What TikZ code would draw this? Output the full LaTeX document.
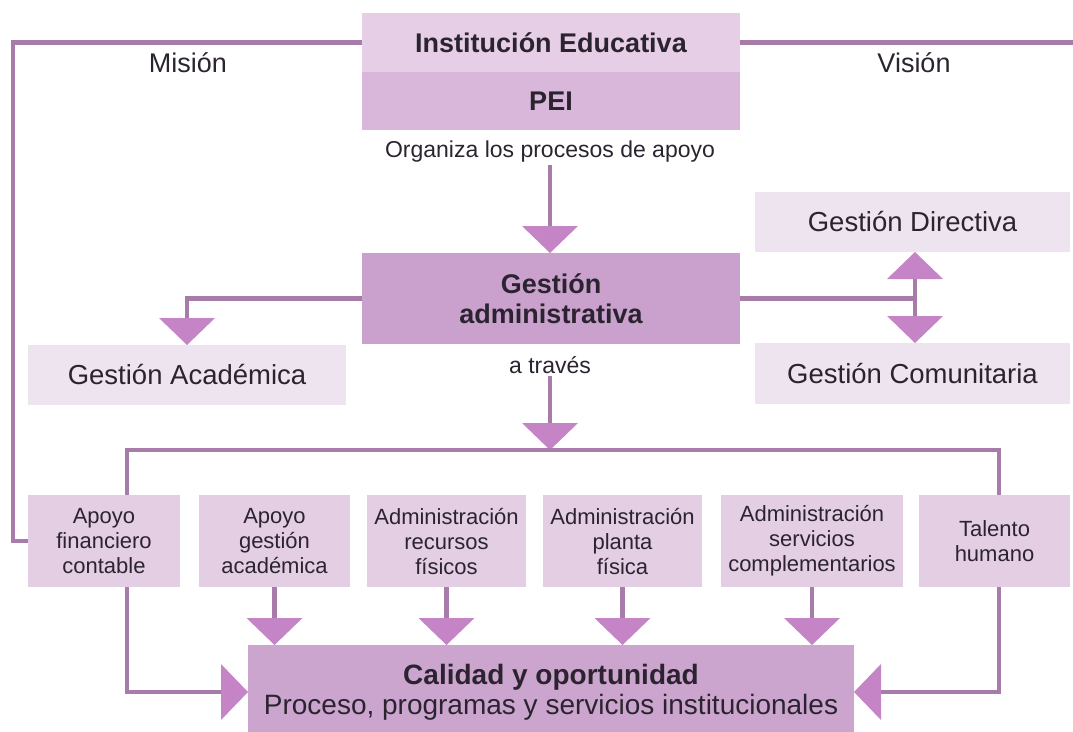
\documentclass[tikz,border=0pt]{standalone}
\usepackage{fontspec}
\setmainfont{Liberation Sans}
\usetikzlibrary{arrows.meta}

\definecolor{linecol}{HTML}{A87CA8}
\definecolor{tipcol}{HTML}{C484C6}
\definecolor{instfill}{HTML}{E6CFE6}
\definecolor{peifill}{HTML}{D8B7DA}
\definecolor{adminfill}{HTML}{C9A1CC}
\definecolor{lightfill}{HTML}{EEE4EF}
\definecolor{boxfill}{HTML}{E3CEE4}
\definecolor{calfill}{HTML}{CBA5CE}
\definecolor{textcol}{HTML}{2B2430}

\newcommand{\headfont}{\fontsize{27}{30}\selectfont\bfseries}
\newcommand{\gestfont}{\fontsize{27.5}{30}\selectfont}
\newcommand{\notefont}{\fontsize{23}{26}\selectfont}
\newcommand{\boxfont}{\fontsize{22}{25}\selectfont}

\tikzstyle{box} = [rectangle,inner sep=0pt,outer sep=0pt,align=center,text=textcol]
\tikzstyle{note} = [inner sep=2pt,outer sep=0pt,text=textcol,font=\notefont]
\tikzstyle{edge} = [draw,line width=4.5pt,linecol]
\tikzstyle{arrowdecorate} = [edge,-{Triangle[width=56pt,length=27pt,line width=0pt,color=tipcol]}]

\begin{document}
\begin{tikzpicture}[x=1pt,y=-1pt]
    \useasboundingbox (0,0) rectangle (1073,731);

    % top block
    \node[box,fill=instfill,font=\headfont,minimum width=378pt,minimum height=59pt] (inst) at (551,42.5) {Institución Educativa};
    \node[box,fill=peifill,font=\headfont,minimum width=378pt,minimum height=58pt] (pei) at (551,101) {PEI};
    \node[note] (org) at (550,152) {Organiza los procesos de apoyo};
    \node[note,font=\fontsize{27}{30}\selectfont] (mision) at (188,63) {Misión};
    \node[note,font=\fontsize{27}{30}\selectfont] (vision) at (914,63) {Visión};
    \coordinate (vend) at (1076,42.5);

    % gestiones
    \node[box,fill=adminfill,font=\headfont,minimum width=378pt,minimum height=91pt] (admin) at (551,298.5) {Gestión\\administrativa};
    \node[box,fill=lightfill,font=\gestfont,minimum width=318pt,minimum height=60pt] (acad) at (187,375) {Gestión Académica};
    \node[box,fill=lightfill,font=\gestfont,minimum width=315pt,minimum height=60pt] (dir) at (912.5,222) {Gestión Directiva};
    \node[box,fill=lightfill,font=\gestfont,minimum width=315pt,minimum height=61pt] (com) at (912.5,373.5) {Gestión Comunitaria};
    \node[note] (traves) at (550,365) {a través};
    \coordinate (jn) at (915,298.5);
    \coordinate (bar) at (550,450);

    % support processes
    \foreach \nodename/\x/\w/\txt in {
      b1/104/152/{Apoyo\\financiero\\contable},
      b2/274.5/151/{Apoyo\\gestión\\académica},
      b3/446.5/159/{Administración\\recursos\\físicos},
      b4/622.5/159/{Administración\\planta\\física},
      b5/812/182/{Administración\\servicios\\complementarios},
      b6/994.5/151/{Talento\\humano}}
    {
      \node[box,fill=boxfill,font=\boxfont,minimum width=\w pt,minimum height=92pt] (\nodename) at (\x,541) {\txt};
    }

    \node[box,fill=calfill,font=\fontsize{28}{30}\selectfont,minimum width=606pt,minimum height=94pt] (cal) at (551,692)
      {\textbf{Calidad y oportunidad}\\Proceso, programas y servicios institucionales};

    %edges or lines
    \draw[edge] (inst.west) -| ([xshift=-15pt]b1.west) -- (b1.west);
    \draw[edge] (inst.east) -- (vend);
    \draw[arrowdecorate] (org) -- (org |- admin.north);
    \draw[arrowdecorate] (admin.west) -| (acad.north);
    \draw[edge] (admin.east) -- (jn);
    \draw[arrowdecorate] (jn) -- (jn |- dir.south);
    \draw[arrowdecorate] (jn) -- (jn |- com.north);
    \draw[arrowdecorate] (traves) -- (bar);
    \draw[edge] ([xshift=23pt]b1.north) |- (bar) -| ([xshift=4.5pt]b6.north);

    \foreach \startnode in {b2,b3,b4,b5}
    {
      \draw[arrowdecorate] (\startnode) -- (\startnode |- cal.north);
    }
    \draw[arrowdecorate] ([xshift=23pt]b1.south) |- (cal.west);
    \draw[arrowdecorate] ([xshift=4.5pt]b6.south) |- (cal.east);
\end{tikzpicture}
\end{document}
